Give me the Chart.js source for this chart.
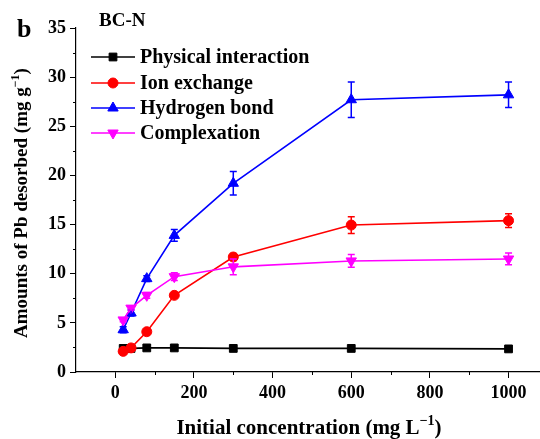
<!DOCTYPE html>
<html>
<head>
<meta charset="utf-8">
<script src="https://cdn.jsdelivr.net/npm/chart.js@4"></script>
<style>
  body { margin: 0; background: #fff; }
  #wrap { width: 540px; height: 439px; }
</style>
</head>
<body>
<div id="wrap"><canvas id="grafico" width="540" height="439"></canvas></div>
<script>
// data
var concentracoes = [20, 40, 80, 150, 300, 600, 1000];

var fisica = [2.4, 2.4, 2.45, 2.45, 2.4, 2.4, 2.35];
var fisica_erro = [0, 0, 0, 0, 0, 0, 0];

var troca_ionica = [2.1, 2.45, 4.1, 7.8, 11.7, 14.95, 15.4];
var troca_ionica_erro = [0.1, 0.1, 0.15, 0.2, 0.35, 0.85, 0.7];

var ligacao_h = [4.3, 6.0, 9.5, 13.9, 19.2, 27.7, 28.2];
var ligacao_h_erro = [0.3, 0.3, 0.3, 0.6, 1.2, 1.8, 1.3];

var complexacao = [5.3, 6.5, 7.8, 9.7, 10.7, 11.3, 11.5];
var complexacao_erro = [0.2, 0.2, 0.3, 0.4, 0.8, 0.65, 0.6];

var nomes = ['Physical interaction', 'Ion exchange', 'Hydrogen bond', 'Complexation'];
var y_ticks = [0, 5, 10, 15, 20, 25, 30, 35];
var x_ticks = [0, 200, 400, 600, 800, 1000];

const fonte = '"Liberation Serif", "Times New Roman", serif';

function pontos(valores) {
    return concentracoes.map(function (c, i) { return { x: c, y: valores[i] }; });
}

function serie(nome, valores, erros, cor, estilo, raio, rot, ordem) {
    return {
        label: nome,
        data: pontos(valores),
        erros: erros,
        borderColor: cor,
        backgroundColor: cor,
        pointBackgroundColor: cor,
        pointBorderColor: cor,
        pointStyle: estilo,
        pointRadius: raio,
        pointRotation: rot,
        borderWidth: 1.6,
        pointBorderWidth: 1,
        tension: 0,
        order: ordem
    };
}

function desenhaSup(ctx, partes, x, y, alinhamento, tam) {
    // partes: [texto, sobrescrito, texto ...]
    var larg = 0;
    partes.forEach(function (p, i) {
        ctx.font = 'bold ' + (i % 2 ? Math.round(tam * 0.65) : tam) + 'px ' + fonte;
        larg += ctx.measureText(p).width;
    });
    var px = alinhamento === 'center' ? x - larg / 2 : x;
    ctx.textAlign = 'left';
    partes.forEach(function (p, i) {
        ctx.font = 'bold ' + (i % 2 ? Math.round(tam * 0.65) : tam) + 'px ' + fonte;
        ctx.fillText(p, px, i % 2 ? y - tam * 0.42 : y);
        px += ctx.measureText(p).width;
    });
}

const extras = {
    id: 'extras',
    afterDatasetsDraw(chart) {
        const ctx = chart.ctx;
        const xs = chart.scales.x, ys = chart.scales.y;
        ctx.save();
        // error bars
        chart.data.datasets.forEach(function (ds) {
            ctx.strokeStyle = ds.borderColor;
            ctx.lineWidth = 1.5;
            ds.data.forEach(function (p, i) {
                var e = ds.erros[i];
                if (!e) return;
                var px = xs.getPixelForValue(p.x);
                var y1 = ys.getPixelForValue(p.y + e);
                var y2 = ys.getPixelForValue(p.y - e);
                ctx.beginPath();
                ctx.moveTo(px, y1); ctx.lineTo(px, y2);
                ctx.moveTo(px - 3.5, y1); ctx.lineTo(px + 3.5, y1);
                ctx.moveTo(px - 3.5, y2); ctx.lineTo(px + 3.5, y2);
                ctx.stroke();
            });
        });
        // minor ticks
        ctx.strokeStyle = '#000';
        ctx.lineWidth = 1;
        ctx.beginPath();
        for (var v = 2.5; v < 35; v += 5) {
            var py = Math.round(ys.getPixelForValue(v)) + 0.5;
            ctx.moveTo(xs.left - 3, py); ctx.lineTo(xs.left, py);
        }
        for (var v = 100; v < 1080; v += 200) {
            var px = Math.round(xs.getPixelForValue(v)) + 0.5;
            ctx.moveTo(px, ys.bottom); ctx.lineTo(px, ys.bottom + 3);
        }
        ctx.stroke();
        // legend
        var ly = [57, 83, 108, 133];
        chart.data.datasets.forEach(function (ds, i) {
            ctx.strokeStyle = ds.borderColor;
            ctx.fillStyle = ds.borderColor;
            ctx.lineWidth = 1.6;
            ctx.beginPath();
            ctx.moveTo(91, ly[i]); ctx.lineTo(135, ly[i]);
            ctx.stroke();
            ctx.lineWidth = 1;
            Chart.helpers.drawPoint(ctx, {
                pointStyle: ds.pointStyle, radius: ds.pointRadius,
                rotation: ds.pointRotation, borderWidth: 1
            }, 113, ly[i]);
            ctx.fillStyle = '#000';
            ctx.font = 'bold 20px ' + fonte;
            ctx.textAlign = 'left';
            ctx.textBaseline = 'middle';
            ctx.fillText(ds.label, 140, ly[i] + 1);
        });
        // labels
        ctx.fillStyle = '#000';
        ctx.textBaseline = 'alphabetic';
        ctx.textAlign = 'left';
        ctx.font = 'bold 26px ' + fonte;
        ctx.fillText('b', 17, 37);
        ctx.font = 'bold 19px ' + fonte;
        ctx.fillText('BC-N', 99, 26);
        desenhaSup(ctx, ['Initial concentration (mg L', '\u22121', ')'], 309, 434, 'center', 21);
        ctx.translate(27, 203);
        ctx.rotate(-Math.PI / 2);
        desenhaSup(ctx, ['Amounts of Pb desorbed (mg g', '\u22121', ')'], 0, 0, 'center', 19);
        ctx.restore();
    }
};

const grafico = document.getElementById('grafico');

var meuGrafico = new Chart(grafico, {
    type: 'line',
    data: {
        datasets: [
            serie(nomes[0], fisica, fisica_erro, '#000000', 'rect', 5.5, 0, 4),
            serie(nomes[1], troca_ionica, troca_ionica_erro, '#ff0000', 'circle', 5, 0, 3),
            serie(nomes[2], ligacao_h, ligacao_h_erro, '#0000ff', 'triangle', 6, 0, 2),
            serie(nomes[3], complexacao, complexacao_erro, '#ff00ff', 'triangle', 6, 180, 1)
        ]
    },
    options: {
        responsive: false,
        animation: false,
        layout: { autoPadding: false, padding: { top: 28, left: 0, right: 0, bottom: 0 } },
        plugins: { legend: { display: false }, tooltip: { enabled: false } },
        scales: {
            x: {
                type: 'linear',
                min: -100,
                max: 1080,
                afterFit: function (s) { s.height = 67; },
                afterBuildTicks: function (s) {
                    s.ticks = [-100].concat(x_ticks).map(function (v) { return { value: v }; });
                },
                ticks: {
                    callback: function (v) { return v < 0 ? '' : v; },
                    font: { family: fonte, size: 18, weight: 'bold' },
                    color: '#000',
                    padding: 5,
                    maxRotation: 0,
                    autoSkip: false
                },
                grid: {
                    drawOnChartArea: false,
                    tickLength: 6,
                    tickColor: function (c) { return c.tick && c.tick.value < 0 ? 'rgba(0,0,0,0)' : '#000'; }
                },
                border: { color: '#000', width: 1.2 }
            },
            y: {
                min: 0,
                max: 35,
                afterFit: function (s) { s.width = 76; },
                afterBuildTicks: function (s) {
                    s.ticks = y_ticks.map(function (v) { return { value: v }; });
                },
                ticks: {
                    font: { family: fonte, size: 18, weight: 'bold' },
                    color: '#000',
                    padding: 4,
                    autoSkip: false
                },
                grid: { drawOnChartArea: false, tickLength: 6, tickColor: '#000' },
                border: { color: '#000', width: 1.2 }
            }
        }
    },
    plugins: [extras]
});
</script>
</body>
</html>
